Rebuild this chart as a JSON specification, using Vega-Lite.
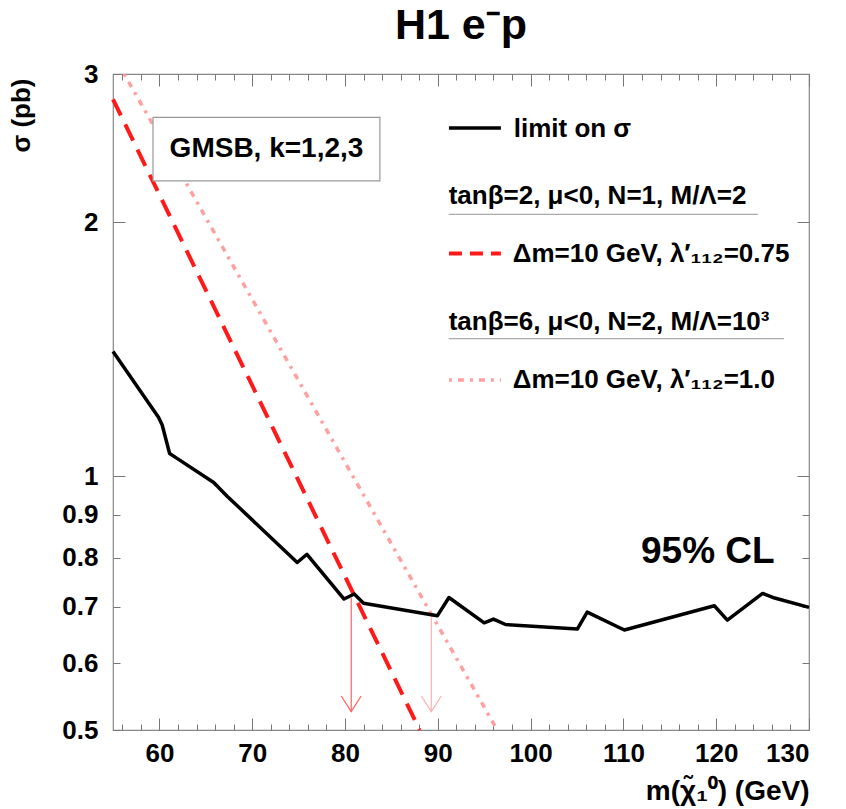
{
  "$schema": "https://vega.github.io/schema/vega-lite/v6.json",
  "width": 696,
  "height": 656,
  "autosize": {"type": "none"},
  "padding": {"left": 113, "top": 74, "right": 37, "bottom": 79},
  "background": "white",
  "title": {"text": "H1 e⁻p", "font": "Liberation Sans", "fontSize": 43, "fontWeight": "bold", "color": "black", "anchor": "middle", "baseline": "alphabetic", "offset": -21},
  "config": {
    "view": {"stroke": "#888", "strokeWidth": 1.2},
    "axis": {"labelFont": "Liberation Sans", "labelFontWeight": "bold", "labelFontSize": 26, "labelColor": "black", "titleFont": "Liberation Sans", "titleFontWeight": "bold", "titleColor": "black", "tickColor": "#777", "tickWidth": 1, "domain": false, "grid": false}
  },
  "datasets": {
    "limit": [
      {"m": 55, "sigma": 1.406}, {"m": 59.9, "sigma": 1.175}, {"m": 60.3, "sigma": 1.15}, {"m": 61.1, "sigma": 1.064},
      {"m": 61.9, "sigma": 1.05}, {"m": 65.85, "sigma": 0.983}, {"m": 67.3, "sigma": 0.947}, {"m": 74.85, "sigma": 0.79},
      {"m": 75.9, "sigma": 0.808}, {"m": 79.9, "sigma": 0.715}, {"m": 81.0, "sigma": 0.725}, {"m": 82.0, "sigma": 0.707},
      {"m": 89.95, "sigma": 0.683}, {"m": 91.2, "sigma": 0.718}, {"m": 95.0, "sigma": 0.67}, {"m": 96.0, "sigma": 0.677},
      {"m": 97.3, "sigma": 0.667}, {"m": 105.05, "sigma": 0.659}, {"m": 106.1, "sigma": 0.69}, {"m": 110.1, "sigma": 0.657},
      {"m": 119.8, "sigma": 0.702}, {"m": 121.2, "sigma": 0.675}, {"m": 125.0, "sigma": 0.726}, {"m": 126.3, "sigma": 0.717},
      {"m": 130, "sigma": 0.699}
    ],
    "dashed": [{"m": 55, "sigma": 2.8}, {"m": 88.05, "sigma": 0.5}],
    "dotted": [{"m": 56.2, "sigma": 3.0}, {"m": 96.4, "sigma": 0.5}],
    "arrowRed": [{"m": 80.67, "top": 0.718, "bottom": 0.5257}],
    "arrowPink": [{"m": 89.3, "top": 0.68, "bottom": 0.5257}],
    "legBlack": [{"m1": 91.2, "m2": 96.8, "sigma": 2.589}],
    "legRed": [{"m1": 91.2, "m2": 96.8, "sigma": 1.837}],
    "legPink": [{"m1": 91.2, "m2": 96.8, "sigma": 1.301}],
    "underlines": [{"m1": 91.17, "m2": 124.5, "sigma": 2.045}, {"m1": 91.17, "m2": 127.3, "sigma": 1.456}],
    "legText": [
      {"m": 98.18, "sigma": 2.58, "text": "limit on σ"},
      {"m": 91.17, "sigma": 2.148, "text": "tanβ=2, μ<0, N=1, M/Λ=2"},
      {"m": 98.07, "sigma": 1.837, "text": "Δm=10 GeV, λ′₁₁₂=0.75"},
      {"m": 91.17, "sigma": 1.525, "text": "tanβ=6, μ<0, N=2, M/Λ=10³"},
      {"m": 98.07, "sigma": 1.301, "text": "Δm=10 GeV, λ′₁₁₂=1.0"}
    ],
    "box": [{"m1": 59.31, "m2": 83.76, "s1": 2.24, "s2": 2.665}],
    "boxText": [{"m": 71.54, "sigma": 2.444, "text": "GMSB, k=1,2,3"}],
    "cl": [{"m": 119.1, "sigma": 0.812, "text": "95% CL"}]
  },
  "resolve": {"axis": {"x": "independent", "y": "independent"}},
  "layer": [
    {
      "data": {"name": "dashed"},
      "mark": {"type": "line", "color": "#ff1a1a", "strokeWidth": 4, "strokeDash": [18, 10]},
      "encoding": {
        "x": {"field": "m", "type": "quantitative", "scale": {"domain": [55, 130], "nice": false, "zero": false},
              "axis": {"orient": "bottom", "values": [56,58,62,64,66,68,72,74,76,78,82,84,86,88,92,94,96,98,102,104,106,108,112,114,116,118,122,124,126,128], "tickSize": -6, "labels": false, "title": null}},
        "y": {"field": "sigma", "type": "quantitative", "scale": {"type": "log", "domain": [0.5, 3], "nice": false, "zero": false},
              "axis": {"orient": "left", "values": [1, 2], "tickSize": -12, "labels": false, "title": null}}
      }
    },
    {
      "data": {"name": "dotted"},
      "mark": {"type": "line", "color": "#ffa0a0", "strokeWidth": 3.5, "strokeDash": [3, 6, 6, 6]},
      "encoding": {
        "x": {"field": "m", "type": "quantitative",
              "axis": {"orient": "top", "values": [60,70,80,90,100,110,120,130], "tickSize": -12, "labels": false, "title": null}},
        "y": {"field": "sigma", "type": "quantitative",
              "axis": {"orient": "right", "values": [0.6, 0.7, 0.8, 0.9], "tickSize": -7, "labels": false, "title": null}}
      }
    },
    {
      "data": {"name": "box"},
      "mark": {"type": "rect", "fill": "white", "stroke": "#999", "strokeWidth": 1.2},
      "encoding": {
        "x": {"field": "m1", "type": "quantitative", "axis": null},
        "x2": {"field": "m2"},
        "y": {"field": "s1", "type": "quantitative", "axis": null},
        "y2": {"field": "s2"}
      }
    },
    {
      "data": {"name": "boxText"},
      "mark": {"type": "text", "font": "Liberation Sans", "fontWeight": "bold", "fontSize": 28, "color": "black", "align": "center", "baseline": "middle"},
      "encoding": {
        "x": {"field": "m", "type": "quantitative", "axis": null},
        "y": {"field": "sigma", "type": "quantitative", "axis": null},
        "text": {"field": "text"}
      }
    },
    {
      "data": {"name": "cl"},
      "mark": {"type": "text", "font": "Liberation Sans", "fontWeight": "bold", "fontSize": 37, "color": "black", "align": "center", "baseline": "middle"},
      "encoding": {
        "x": {"field": "m", "type": "quantitative", "axis": null},
        "y": {"field": "sigma", "type": "quantitative", "axis": null},
        "text": {"field": "text"}
      }
    },
    {
      "data": {"name": "legText"},
      "mark": {"type": "text", "font": "Liberation Sans", "fontWeight": "bold", "fontSize": 26, "color": "black", "align": "left", "baseline": "middle"},
      "encoding": {
        "x": {"field": "m", "type": "quantitative", "axis": null},
        "y": {"field": "sigma", "type": "quantitative", "axis": null},
        "text": {"field": "text"}
      }
    },
    {
      "data": {"name": "underlines"},
      "mark": {"type": "rule", "color": "#aaa", "strokeWidth": 1.2},
      "encoding": {
        "x": {"field": "m1", "type": "quantitative", "axis": null},
        "x2": {"field": "m2"},
        "y": {"field": "sigma", "type": "quantitative", "axis": null}
      }
    },
    {
      "data": {"name": "legBlack"},
      "mark": {"type": "rule", "color": "black", "strokeWidth": 3.5},
      "encoding": {
        "x": {"field": "m1", "type": "quantitative", "axis": null},
        "x2": {"field": "m2"},
        "y": {"field": "sigma", "type": "quantitative", "axis": null}
      }
    },
    {
      "data": {"name": "legRed"},
      "mark": {"type": "rule", "color": "#ff1a1a", "strokeWidth": 4, "strokeDash": [13, 8]},
      "encoding": {
        "x": {"field": "m1", "type": "quantitative", "axis": null},
        "x2": {"field": "m2"},
        "y": {"field": "sigma", "type": "quantitative", "axis": null}
      }
    },
    {
      "data": {"name": "legPink"},
      "mark": {"type": "rule", "color": "#ffa0a0", "strokeWidth": 3.5, "strokeDash": [3, 6, 6, 6]},
      "encoding": {
        "x": {"field": "m1", "type": "quantitative", "axis": null},
        "x2": {"field": "m2"},
        "y": {"field": "sigma", "type": "quantitative", "axis": null}
      }
    },
    {
      "data": {"name": "limit"},
      "mark": {"type": "line", "color": "black", "strokeWidth": 3.5, "strokeJoin": "round"},
      "encoding": {
        "x": {"field": "m", "type": "quantitative",
              "axis": {"orient": "bottom", "values": [60,70,80,90,100,110,120,130], "tickSize": -12, "labelPadding": 22, "format": "d", "title": "m(χ̃₁⁰) (GeV)", "titleAnchor": "end", "titleFontSize": 28, "titlePadding": 11}},
        "y": {"field": "sigma", "type": "quantitative",
              "axis": {"orient": "left", "values": [0.5, 0.6, 0.7, 0.8, 0.9, 1, 2, 3], "tickSize": -7, "labelPadding": 22, "format": "~g", "title": "σ (pb)", "titleAnchor": "end", "titleAlign": "right", "titleY": 4, "titleFontSize": 26, "titlePadding": 27}}
      }
    },
    {
      "data": {"name": "arrowRed"},
      "mark": {"type": "rule", "color": "#ff6060", "strokeWidth": 1.2},
      "encoding": {
        "x": {"field": "m", "type": "quantitative",
              "axis": {"orient": "top", "values": [56,58,62,64,66,68,72,74,76,78,82,84,86,88,92,94,96,98,102,104,106,108,112,114,116,118,122,124,126,128], "tickSize": -6, "labels": false, "title": null}},
        "y": {"field": "top", "type": "quantitative",
              "axis": {"orient": "right", "values": [1, 2], "tickSize": -12, "labels": false, "title": null}},
        "y2": {"field": "bottom"}
      }
    },
    {
      "data": {"name": "arrowPink"},
      "mark": {"type": "rule", "color": "#ffb0b0", "strokeWidth": 1.2},
      "encoding": {
        "x": {"field": "m", "type": "quantitative", "axis": null},
        "y": {"field": "top", "type": "quantitative", "axis": null},
        "y2": {"field": "bottom"}
      }
    },
    {
      "data": {"name": "arrowRed"},
      "mark": {"type": "point", "shape": "M-1,-1.57L0,0L1,-1.57", "filled": false, "size": 400, "stroke": "#ff6060", "strokeWidth": 1.2, "opacity": 1},
      "encoding": {
        "x": {"field": "m", "type": "quantitative", "axis": null},
        "y": {"field": "bottom", "type": "quantitative", "axis": null}
      }
    },
    {
      "data": {"name": "arrowPink"},
      "mark": {"type": "point", "shape": "M-1,-1.57L0,0L1,-1.57", "filled": false, "size": 400, "stroke": "#ffb0b0", "strokeWidth": 1.2, "opacity": 1},
      "encoding": {
        "x": {"field": "m", "type": "quantitative", "axis": null},
        "y": {"field": "bottom", "type": "quantitative", "axis": null}
      }
    }
  ]
}
